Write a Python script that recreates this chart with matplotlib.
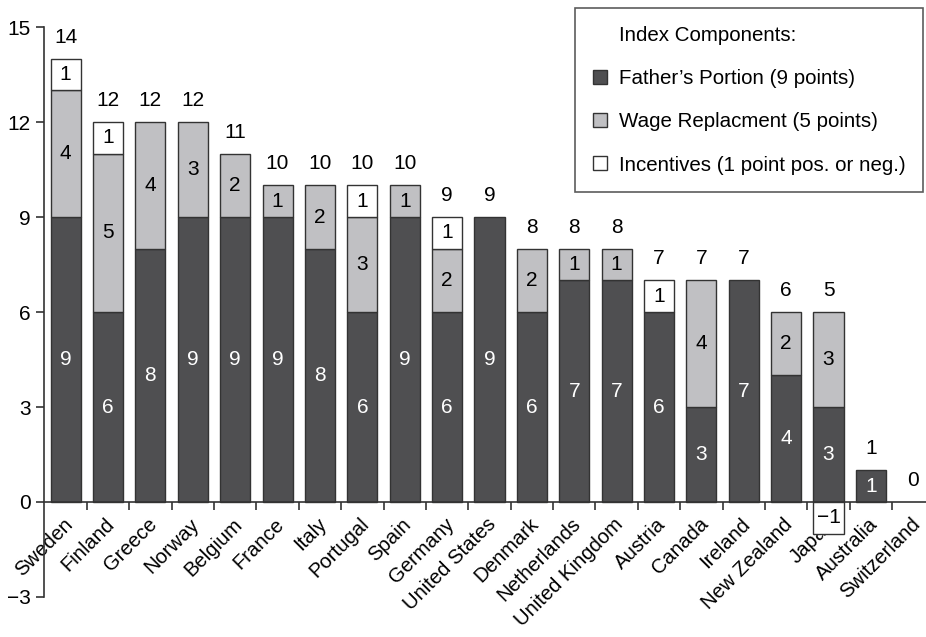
import numpy as np
import matplotlib
matplotlib.use("Agg")
import matplotlib.pyplot as plt
import matplotlib.transforms as mtransforms
from matplotlib.patches import Patch

plt.rcParams['font.family'] = ['Liberation Sans', 'DejaVu Sans']

countries = ['Sweden', 'Finland', 'Greece', 'Norway', 'Belgium', 'France', 'Italy',
             'Portugal', 'Spain', 'Germany', 'United States', 'Denmark', 'Netherlands',
             'United Kingdom', 'Austria', 'Canada', 'Ireland', 'New Zealand', 'Japan',
             'Australia', 'Switzerland']
father = [9, 6, 8, 9, 9, 9, 8, 6, 9, 6, 9, 6, 7, 7, 6, 3, 7, 4, 3, 1, 0]
wage = [4, 5, 4, 3, 2, 1, 2, 3, 1, 2, 0, 2, 1, 1, 0, 4, 0, 2, 3, 0, 0]
incent = [1, 1, 0, 0, 0, 0, 0, 1, 0, 1, 0, 0, 0, 0, 1, 0, 0, 0, -1, 0, 0]

dark = '#4f4f51'
light = '#c0c0c3'
edge = '#333333'
fs = 15

father = np.array(father)
wage = np.array(wage)
incent = np.array(incent)
total = father + wage + incent
x = np.arange(len(countries))

fig = plt.figure(figsize=(9.26, 6.37), dpi=100)
ax = fig.add_axes([0.048, 0.0628, 0.952, 0.8948])

w = 0.71


def draw(vals, bottom, color):
    m = vals != 0
    ax.bar(x[m], vals[m], w, bottom=bottom[m], color=color, edgecolor=edge,
           linewidth=1, zorder=2)


zero = np.zeros_like(father)
draw(father, zero, dark)
draw(wage, father, light)
draw(np.where(incent > 0, incent, 0), father + wage, 'white')
draw(np.where(incent < 0, incent, 0), zero, 'white')

for i in x:
    if father[i] > 0:
        ax.text(i, father[i] / 2, str(father[i]), ha='center', va='center',
                color='white', fontsize=fs, zorder=3)
    if wage[i] > 0:
        ax.text(i, father[i] + wage[i] / 2, str(wage[i]), ha='center', va='center',
                color='black', fontsize=fs, zorder=3)
    if incent[i] > 0:
        ax.text(i, father[i] + wage[i] + 0.5, str(incent[i]), ha='center', va='center',
                color='black', fontsize=fs, zorder=3)
    elif incent[i] < 0:
        ax.text(i, incent[i] / 2, '\u2212' + str(-incent[i]), ha='center', va='center',
                color='black', fontsize=fs, zorder=3)
    top = father[i] + wage[i] + max(incent[i], 0)
    ax.text(i, top + 0.68, str(total[i]), ha='center', va='center',
            color='black', fontsize=fs, zorder=3)

ax.set_xlim(-0.5, 20.3)
ax.set_ylim(-3, 15)
ax.set_yticks([-3, 0, 3, 6, 9, 12, 15])
ax.set_yticklabels(['\u22123', '0', '3', '6', '9', '12', '15'])

ax.spines['top'].set_visible(False)
ax.spines['right'].set_visible(False)
ax.spines['bottom'].set_position(('data', 0))
for s in ['left', 'bottom']:
    ax.spines[s].set_color(edge)
    ax.spines[s].set_linewidth(1.2)

ax.set_xticks(x)
ax.set_xticklabels(countries, rotation=45, ha='right', va='top', rotation_mode='anchor')
ax.set_xticks(x[:-1] + 0.5, minor=True)
ax.tick_params(axis='x', which='major', length=0, pad=9, labelsize=14.6)
ax.tick_params(axis='x', which='minor', length=6, width=1.2, color=edge, direction='out')
ax.tick_params(axis='y', length=6, width=1.2, color=edge, pad=4, labelsize=fs)

shift = mtransforms.ScaledTranslation(-3 / 100, 0, fig.dpi_scale_trans)
for lab in ax.get_xticklabels():
    lab.set_transform(lab.get_transform() + shift)

handles = [Patch(facecolor='none', edgecolor='none'),
           Patch(facecolor=dark, edgecolor=edge),
           Patch(facecolor=light, edgecolor=edge),
           Patch(facecolor='white', edgecolor=edge)]
labels = ['Index Components:', 'Father\u2019s Portion (9 points)',
          'Wage Replacment (5 points)', 'Incentives (1 point pos. or neg.)']
leg = fig.legend(handles, labels, loc='upper right', bbox_to_anchor=(0.997, 0.987),
                 fontsize=14.8, frameon=True, fancybox=False, edgecolor=edge,
                 handlelength=0.68, handleheight=0.68, handletextpad=0.6,
                 labelspacing=1.18, borderpad=0.85, borderaxespad=0)
leg.get_frame().set_linewidth(1.2)

fig.savefig('out.png', dpi=100)
